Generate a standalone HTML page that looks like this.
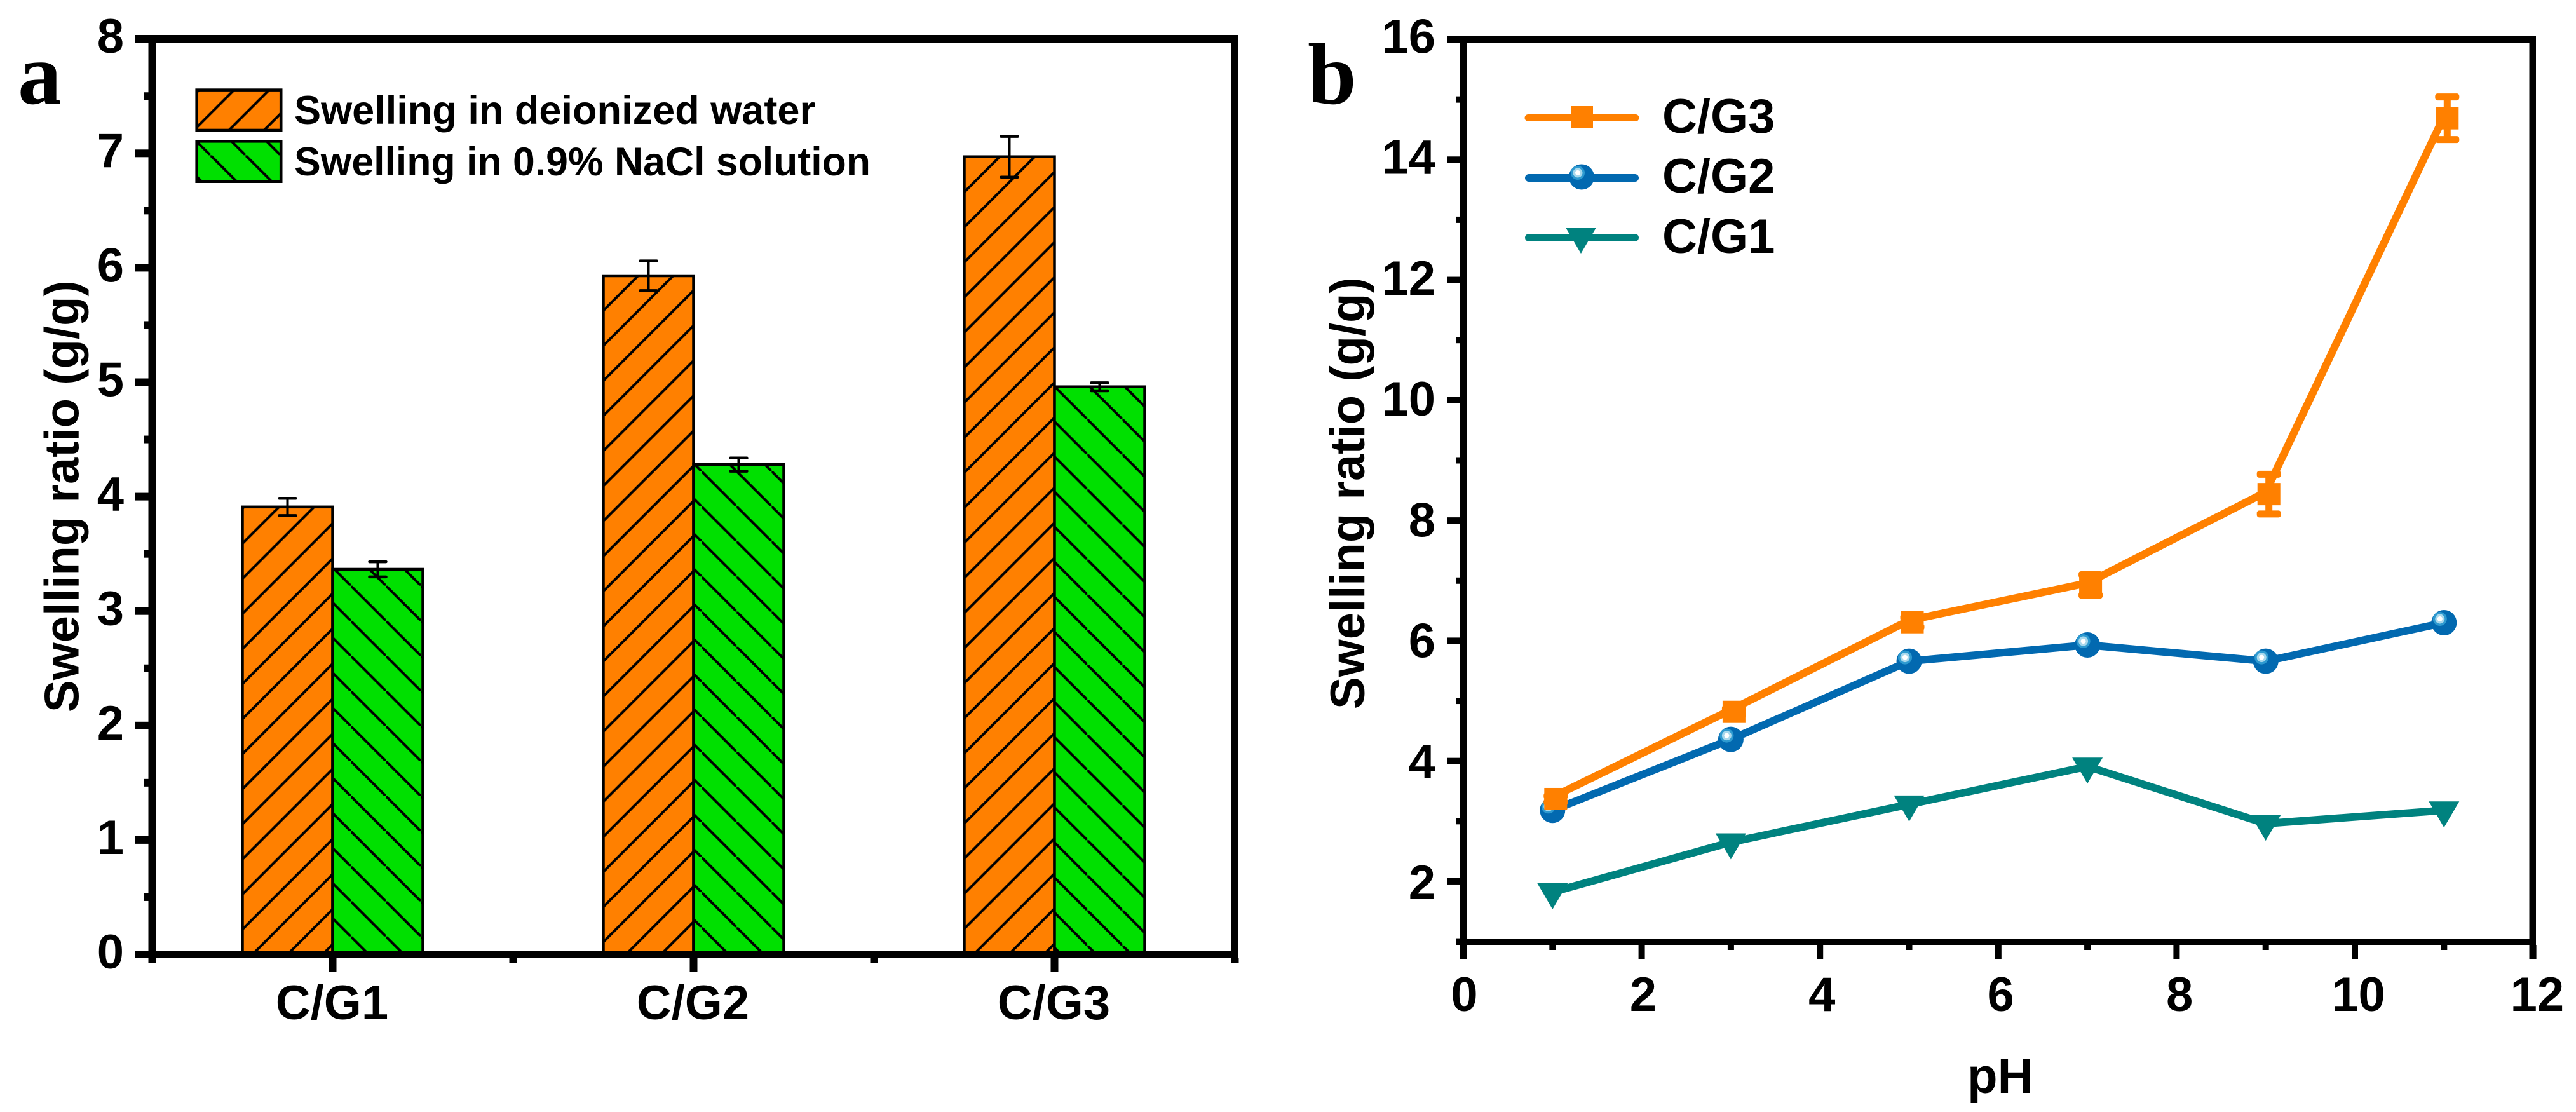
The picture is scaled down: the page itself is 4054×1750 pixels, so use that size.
<!DOCTYPE html>
<html lang="en">
<head>
<meta charset="utf-8">
<title>Swelling ratio charts</title>
<style>
html,body{margin:0;padding:0;background:#fff;width:4054px;height:1750px;overflow:hidden}
svg{display:block}
text{font-family:"Liberation Sans",Arial,sans-serif;font-weight:700;fill:#000}
.panel-letter{font-family:"Liberation Serif","Times New Roman",serif;font-weight:700;font-size:138px}
</style>
</head>
<body>
<svg id="figure" xmlns="http://www.w3.org/2000/svg" width="4054" height="1750" viewBox="0 0 4054 1750">
  <defs>
    <pattern id="hatch-water-0" width="55.2" height="55.2" patternUnits="userSpaceOnUse" patternTransform="translate(2009.7 0)"><path d="M-6 6L6 -6M0 55.2L55.2 0M49.2 61.2L61.2 49.2" stroke="#000" stroke-width="4" fill="none"/></pattern>
    <pattern id="hatch-water-1" width="55.2" height="55.2" patternUnits="userSpaceOnUse" patternTransform="translate(2542.3 0)"><path d="M-6 6L6 -6M0 55.2L55.2 0M49.2 61.2L61.2 49.2" stroke="#000" stroke-width="4" fill="none"/></pattern>
    <pattern id="hatch-water-2" width="55.2" height="55.2" patternUnits="userSpaceOnUse" patternTransform="translate(3144.7 0)"><path d="M-6 6L6 -6M0 55.2L55.2 0M49.2 61.2L61.2 49.2" stroke="#000" stroke-width="4" fill="none"/></pattern>
    <pattern id="hatch-saline-0" width="55.2" height="55.2" patternUnits="userSpaceOnUse" patternTransform="translate(0 921.7)"><path d="M-6 -6L6 6M0 0L55.2 55.2M49.2 49.2L61.2 61.2" stroke="#000" stroke-width="4" fill="none"/></pattern>
    <pattern id="hatch-saline-1" width="55.2" height="55.2" patternUnits="userSpaceOnUse" patternTransform="translate(0 355.3)"><path d="M-6 -6L6 6M0 0L55.2 55.2M49.2 49.2L61.2 61.2" stroke="#000" stroke-width="4" fill="none"/></pattern>
    <pattern id="hatch-saline-2" width="55.2" height="55.2" patternUnits="userSpaceOnUse" patternTransform="translate(0 -223.3)"><path d="M-6 -6L6 6M0 0L55.2 55.2M49.2 49.2L61.2 61.2" stroke="#000" stroke-width="4" fill="none"/></pattern>
    <pattern id="hatch-legend-water" width="55.2" height="55.2" patternUnits="userSpaceOnUse" patternTransform="translate(510 0)"><path d="M-6 6L6 -6M0 55.2L55.2 0M49.2 61.2L61.2 49.2" stroke="#000" stroke-width="4" fill="none"/></pattern>
    <pattern id="hatch-legend-saline" width="55.2" height="55.2" patternUnits="userSpaceOnUse" patternTransform="translate(0 -142)"><path d="M-6 -6L6 6M0 0L55.2 55.2M49.2 49.2L61.2 61.2" stroke="#000" stroke-width="4" fill="none"/></pattern>
  </defs>

  <g id="panel-a">
    <g id="bars-layer"></g>
    <g id="axes-a"></g>
    <g id="errors-layer"></g>
    <text class="panel-letter" x="28" y="163">a</text>
    <text font-size="76" transform="translate(123.5 1121) rotate(-90)">Swelling ratio (g/g)</text>
    <g>
      <g>
        <rect x="309.7" y="141.6" width="132.5" height="63.4" fill="#FF8000"/>
        <rect x="309.7" y="141.6" width="132.5" height="63.4" fill="url(#hatch-legend-water)" stroke="#000" stroke-width="4.6"/>
        <text x="463" y="195" font-size="63" textLength="820" lengthAdjust="spacingAndGlyphs">Swelling in deionized water</text>
      </g>
      <g>
        <rect x="309.7" y="222.3" width="132.5" height="63.4" fill="#00E000"/>
        <rect x="309.7" y="222.3" width="132.5" height="63.4" fill="url(#hatch-legend-saline)" stroke="#000" stroke-width="4.6"/>
        <text x="463" y="276" font-size="63" textLength="907" lengthAdjust="spacingAndGlyphs">Swelling in 0.9% NaCl solution</text>
      </g>
    </g>
  </g>

  <g id="panel-b">
    <g id="axes-b"></g>
    <g id="series-layer"></g>
    <text class="panel-letter" x="2058" y="163">b</text>
    <text font-size="76" transform="translate(2147 1116) rotate(-90)">Swelling ratio (g/g)</text>
    <text font-size="78" text-anchor="middle" x="3148" y="1720">pH</text>
    <g>
      <g>
        <line x1="2405" x2="2574" y1="185.5" y2="185.5" stroke="#FF8000" stroke-width="11" stroke-linecap="round"/>
        <rect x="2472" y="167" width="35" height="35" fill="#FF8000"/>
        <text x="2616" y="209" font-size="76">C/G3</text>
      </g>
      <g>
        <line x1="2406" x2="2573" y1="280" y2="280" stroke="#0269B0" stroke-width="12" stroke-linecap="round"/>
        <circle cx="2489" cy="278.5" r="20" fill="#0269B0"/>
        <circle cx="2483" cy="272" r="11" fill="#2E9AD0"/>
        <circle cx="2483" cy="272" r="7.5" fill="#A8D8EC"/>
        <circle cx="2483" cy="272" r="4" fill="#FFFFFF"/>
        <text x="2616" y="303" font-size="76">C/G2</text>
      </g>
      <g>
        <line x1="2406" x2="2573" y1="374" y2="374" stroke="#00827F" stroke-width="12" stroke-linecap="round"/>
        <polygon points="2464.5,359 2511.5,359 2488,399" fill="#00827F"/>
        <text x="2616" y="398" font-size="76">C/G1</text>
      </g>
    </g>
  </g>
</svg>

<script>
// Bar chart data
const categories = ["C/G1", "C/G2", "C/G3"];
const waterValues = [3.91, 5.93, 6.97];
const waterErrors = [0.075, 0.13, 0.178];
const salineValues = [3.365, 4.28, 4.96];
const salineErrors = [0.066, 0.058, 0.035];
const barYTicks = [0, 1, 2, 3, 4, 5, 6, 7, 8];

// Line chart data
const pHValues = [1, 3, 5, 7, 9, 11];
const cg3Values = [3.4, 4.85, 6.34, 6.96, 8.47, 14.72];
const cg3Errors = [0.05, 0.05, 0.08, 0.17, 0.33, 0.354];
const cg2Values = [3.18, 4.36, 5.66, 5.93, 5.66, 6.3];
const cg1Values = [1.82, 2.65, 3.28, 3.91, 2.96, 3.18];
const lineXTicks = [0, 2, 4, 6, 8, 10, 12];
const lineYTicks = [2, 4, 6, 8, 10, 12, 14, 16];

const SVGNS = "http://www.w3.org/2000/svg";
function make(parent, tag, attrs, content) {
  const el = document.createElementNS(SVGNS, tag);
  for (const key in attrs) el.setAttribute(key, attrs[key]);
  if (content !== undefined) el.textContent = content;
  parent.appendChild(el);
  return el;
}

// Axis functions
const barY = v => 1502 - v * 180.1;
const barX = i => 523.5 + 568 * i;
const lineX = v => 2303 + v * 140.3;
const lineY = v => 62 + (16 - v) * 94.64;
const lineLabelX = v => 2304.5 + v * 140.7;
const lineLabelBase = v => 83.5 + (16 - v) * 95.1;

// ---------- Panel a ----------
const barsLayer = document.getElementById("bars-layer");
const errorsLayer = document.getElementById("errors-layer");
const axesA = document.getElementById("axes-a");
const BAR_W = 142;

function drawBar(i, value, error, color, series, sign) {
  const x0 = sign < 0 ? barX(i) - BAR_W : barX(i);
  const top = barY(value);
  const base = make(barsLayer, "rect", {x: x0, y: top, width: BAR_W, height: barY(0) - top, fill: color});
  
  
  const hatch = make(barsLayer, "rect", {x: x0, y: top, width: BAR_W, height: barY(0) - top, fill: "url(#hatch-" + series + "-" + i + ")", stroke: "#000", "stroke-width": 4.5});
  
  
  const cx = x0 + BAR_W / 2;
  const stem = make(errorsLayer, "line", {x1: cx, x2: cx, y1: barY(value + error), y2: barY(value - error), stroke: "#000", "stroke-width": 4});
  
  
  [value + error, value - error].forEach(v => {
    const cap = make(errorsLayer, "line", {x1: cx - 13, x2: cx + 13, y1: barY(v), y2: barY(v), stroke: "#000", "stroke-width": 4.5, "stroke-linecap": "round"});
    
    
  });
}
categories.forEach((c, i) => {
  drawBar(i, waterValues[i], waterErrors[i], "#FF8000", "water", -1);
  drawBar(i, salineValues[i], salineErrors[i], "#00E000", "saline", 1);
});

function box(parent, x, y, w, h, name) {
  const r = make(parent, "rect", {x: x, y: y, width: w, height: h, fill: "#000"});
  
  
  return r;
}

box(axesA, 212, 55, 1737, 12, 'top-axis');
box(axesA, 212, 1496, 1737, 12, 'bottom-axis');
box(axesA, 233.5, 55, 11.5, 1460, 'left-axis');
box(axesA, 1937.5, 55, 11.5, 1460, 'right-axis');

barYTicks.forEach(v => {
  const y = barY(v);
  box(axesA, 212, y - 6, 22, 12, 'y-tick');
  if (v < 8) box(axesA, 226, barY(v + 0.5) - 6, 8, 12, 'y-minor-tick');
  const t = make(axesA, "text", {x: 195, y: y + 22, "font-size": 76, "text-anchor": "end"}, String(v));
  
  
});
categories.forEach((c, i) => {
  const x = barX(i);
  box(axesA, x - 6, 1508, 12, 21, 'x-tick');
  box(axesA, x + 284 - 6, 1508, 12, 7, 'x-minor-tick');
  const t = make(axesA, "text", {x: x - 1, y: 1604, "font-size": 76, "text-anchor": "middle"}, c);
  
  
});

// ---------- Panel b ----------
const axesB = document.getElementById("axes-b");
const seriesLayer = document.getElementById("series-layer");

box(axesB, 2277, 57, 1714, 10, 'top-axis');
box(axesB, 2291, 1477, 1700, 10, 'bottom-axis');
box(axesB, 2298, 57, 10, 1452, 'left-axis');
box(axesB, 3980.5, 57, 10.5, 1452, 'right-axis');

lineYTicks.forEach(v => {
  const y = lineY(v);
  box(axesB, 2277, y - 5, 21, 10, 'y-tick');
  box(axesB, 2291, lineY(v - 1) - 5, 7, 10, 'y-minor-tick');
  const t = make(axesB, "text", {x: 2259, y: lineLabelBase(v), "font-size": 76, "text-anchor": "end"}, String(v));
  
  
});
lineXTicks.forEach(v => {
  const x = lineX(v);
  box(axesB, x - 5, 1487, 10, 22, 'x-tick');
  if (v < 12) box(axesB, lineX(v + 1) - 5, 1487, 10, 8, 'x-minor-tick');
  const t = make(axesB, "text", {x: lineLabelX(v), y: 1591, "font-size": 76, "text-anchor": "middle"}, String(v));
  
  
});

function polyline(values, color, width, name) {
  const pts = pHValues.map((p, i) => lineX(p) + "," + lineY(values[i])).join(" ");
  const l = make(seriesLayer, "polyline", {points: pts, fill: "none", stroke: color, "stroke-width": width, "stroke-linejoin": "round"});
  
  
}

// C/G1
polyline(cg1Values, "#00827F", 12, 'series-line-cg1');
pHValues.forEach((p, i) => {
  const x = lineX(p), y = lineY(cg1Values[i]);
  const m = make(seriesLayer, "polygon", {points: (x - 24) + "," + (y - 14) + " " + (x + 24) + "," + (y - 14) + " " + x + "," + (y + 27), fill: "#00827F"});
  
  
});

// C/G2
polyline(cg2Values, "#0269B0", 12, 'series-line-cg2');
pHValues.forEach((p, i) => {
  const x = lineX(p), y = lineY(cg2Values[i]);
  const ball = make(seriesLayer, "circle", {cx: x, cy: y, r: 20, fill: "#0269B0"});
  
  
  const ring = make(seriesLayer, "circle", {cx: x - 6.5, cy: y - 6, r: 11, fill: "#2E9AD0"});
  
  
  const glow = make(seriesLayer, "circle", {cx: x - 6.5, cy: y - 6, r: 7.5, fill: "#A8D8EC"});
  
  
  const shine = make(seriesLayer, "circle", {cx: x - 6.5, cy: y - 6, r: 4, fill: "#FFFFFF"});
  
  
});

// C/G3
polyline(cg3Values, "#FF8000", 12, 'series-line-cg3');
pHValues.forEach((p, i) => {
  const x = lineX(p) + 5, y = lineY(cg3Values[i]) + 3;
  const e = cg3Errors[i] * 94.64;
  const stem = make(seriesLayer, "line", {x1: x, x2: x, y1: y - e, y2: y + e, stroke: "#FF8000", "stroke-width": 11});
  
  
  [y - e, y + e].forEach(cy => {
    const cap = make(seriesLayer, "rect", {x: x - 19, y: cy - 5.5, width: 38, height: 11, rx: 4, fill: "#FF8000"});
    
    
  });
  const m = make(seriesLayer, "rect", {x: x - 18, y: y - 17.5, width: 36, height: 35, fill: "#FF8000"});
  
  
});
</script>
</body>
</html>
